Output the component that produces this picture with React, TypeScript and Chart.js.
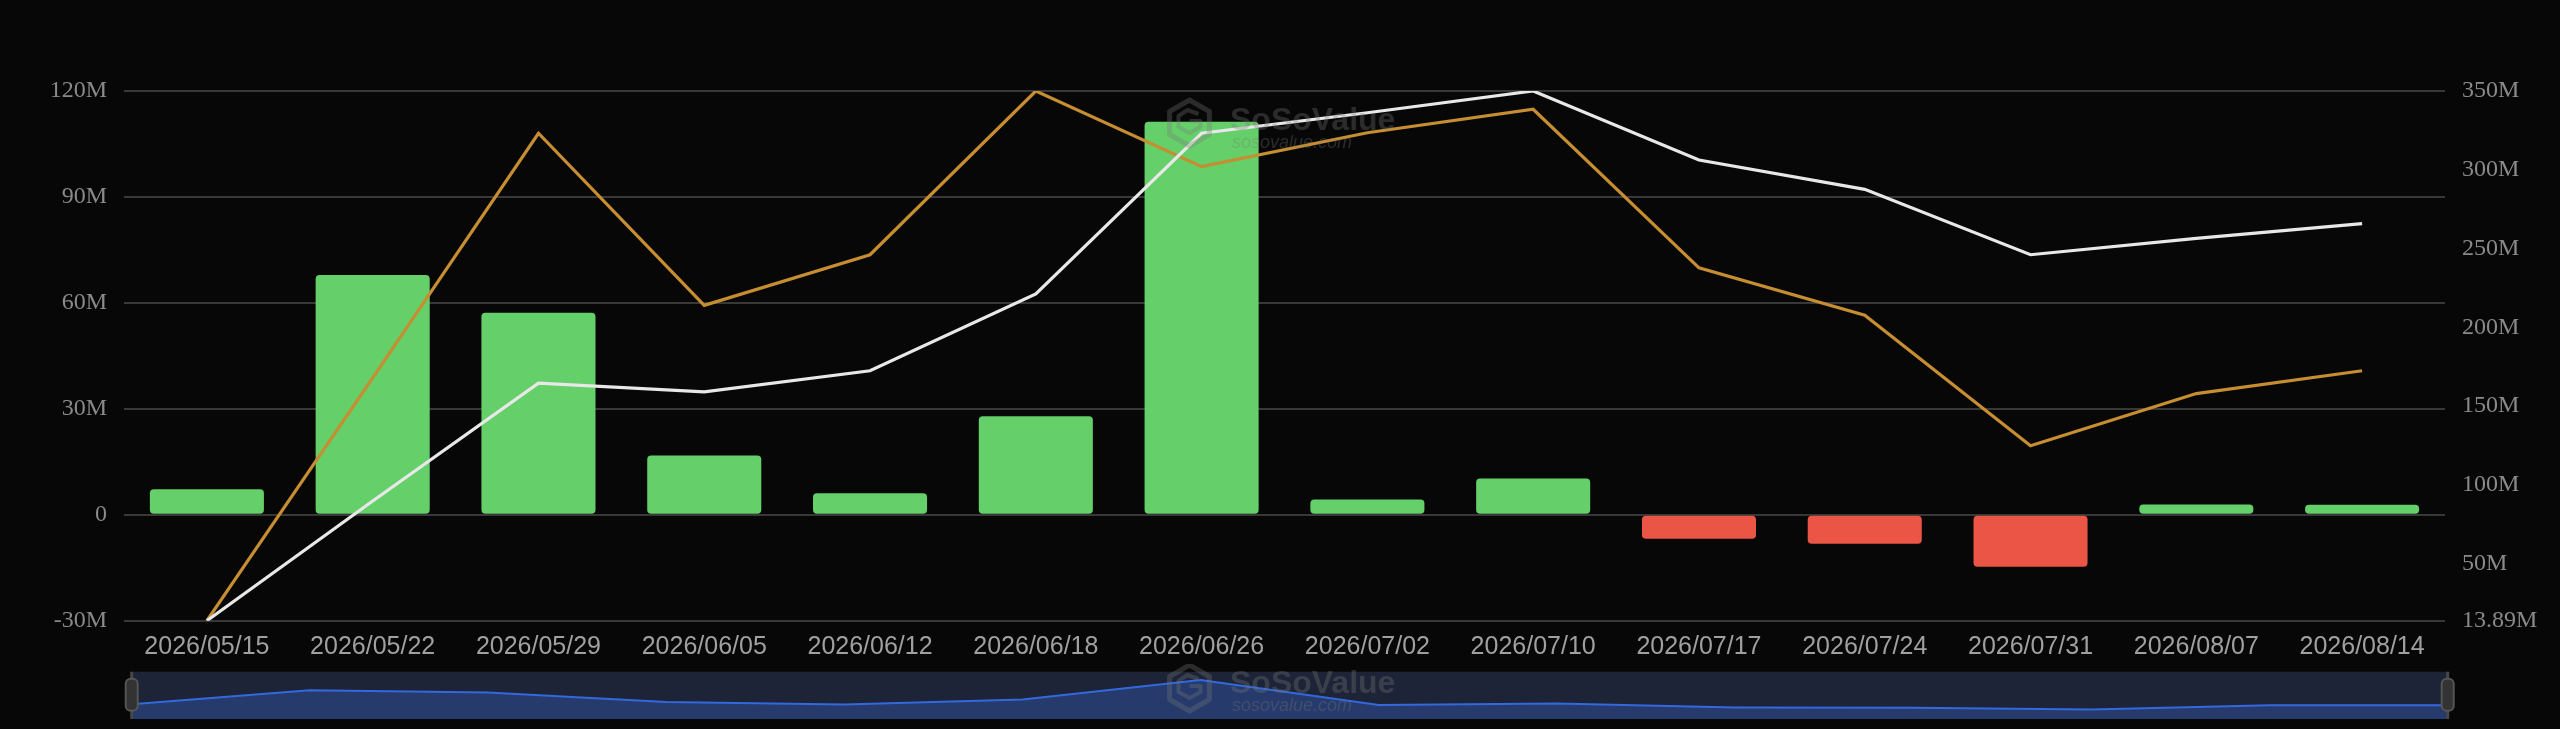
import React, { useEffect, useRef } from "react";
import { Chart, registerables } from "chart.js";

Chart.register(...registerables);

// ---------- data (values in millions) ----------
const categories = [
  "2026/05/15", "2026/05/22", "2026/05/29", "2026/06/05", "2026/06/12",
  "2026/06/18", "2026/06/26", "2026/07/02", "2026/07/10", "2026/07/17",
  "2026/07/24", "2026/07/31", "2026/08/07", "2026/08/14",
];
const netInflowM = [7.2, 67.9, 57.2, 16.8, 6.1, 27.9, 111.3, 4.3, 10.3, -6.8, -8.2, -14.7, 2.9, 2.8];
const orangeSeriesM = [13.89, 168, 323.2, 214.0, 246.1, 350, 302.0, 323.5, 338.4, 237.8, 207.7, 124.9, 158.0, 172.5];
const whiteSeriesM = [13.89, 89.8, 164.6, 159.1, 172.5, 221.3, 323.2, 336.2, 350, 306.2, 287.6, 246.1, 256.5, 265.8];
const leftTicks = { min: -30, max: 120, step: 30 };
const rightTickValues = [13.89, 50, 100, 150, 200, 250, 300, 350];

// ---------- styles ----------
const BG = "#070707";
const GREEN = "#65cf69";
const RED = "#ea5546";
const ORANGE = "#c68d31";
const WHITE = "#e8e8e8";
const GRID = "#383838";
const SERIF = "'Liberation Serif', 'Times New Roman', serif";
const SANS = "'Liberation Sans', Arial, Helvetica, sans-serif";

function drawWatermark(ctx: CanvasRenderingContext2D, ox: number, oy: number, textDy: number) {
  ctx.save();
  const c = "rgba(120,120,120,0.32)";
  ctx.strokeStyle = c;
  ctx.fillStyle = c;
  const cx = ox + 22.5;
  const cy = oy + 25;
  const r = 23;
  ctx.lineWidth = 5;
  ctx.lineJoin = "round";
  ctx.beginPath();
  for (let i = 0; i < 6; i++) {
    const a = -Math.PI / 2 + (i * Math.PI) / 3;
    const px = cx + r * Math.cos(a);
    const py = cy + r * Math.sin(a);
    if (i === 0) ctx.moveTo(px, py);
    else ctx.lineTo(px, py);
  }
  ctx.closePath();
  ctx.stroke();
  ctx.lineWidth = 4;
  ctx.beginPath();
  ctx.moveTo(cx + 9, cy - 9);
  ctx.lineTo(cx - 2, cy - 13);
  ctx.lineTo(cx - 11, cy - 7);
  ctx.lineTo(cx - 11, cy + 4);
  ctx.lineTo(cx, cy + 10);
  ctx.lineTo(cx + 11, cy + 4);
  ctx.lineTo(cx + 11, cy - 2);
  ctx.lineTo(cx, cy - 2);
  ctx.stroke();
  ctx.textBaseline = "alphabetic";
  ctx.textAlign = "left";
  ctx.font = `bold 32px ${SANS}`;
  ctx.fillText("SoSoValue", ox + 63, oy + textDy);
  ctx.font = `italic 18px ${SANS}`;
  ctx.fillText("sosovalue.com", ox + 65, oy + textDy + 18);
  ctx.restore();
}

function MainChart() {
  const ref = useRef<HTMLCanvasElement | null>(null);
  useEffect(() => {
    if (!ref.current) return;
    const watermark = {
      id: "watermark",
      afterDatasetsDraw(chart: any) {
        drawWatermark(chart.ctx, 1167, 98, 32);
      },
    };
    const chart = new Chart(ref.current, {
      type: "bar",
      data: {
        labels: categories,
        datasets: [
          {
            type: "line",
            label: "white",
            data: whiteSeriesM,
            yAxisID: "y1",
            borderColor: WHITE,
            borderWidth: 3.2,
            pointRadius: 0,
            tension: 0,
            order: 1,
          } as any,
          {
            type: "line",
            label: "orange",
            data: orangeSeriesM,
            yAxisID: "y1",
            borderColor: ORANGE,
            borderWidth: 3.2,
            pointRadius: 0,
            tension: 0,
            order: 2,
          } as any,
          {
            type: "bar",
            label: "net",
            data: netInflowM,
            yAxisID: "y",
            backgroundColor: netInflowM.map((v) => (v >= 0 ? GREEN : RED)),
            borderWidth: 0,
            borderRadius: 4,
            borderSkipped: false,
            barPercentage: 0.688,
            categoryPercentage: 1,
            order: 3,
          } as any,
        ],
      },
      options: {
        animation: false,
        responsive: false,
        maintainAspectRatio: false,
        layout: { padding: { top: 91, left: 0, right: 0, bottom: 0 } },
        plugins: { legend: { display: false }, tooltip: { enabled: false } },
        scales: {
          x: {
            offset: true,
            grid: { display: false, drawTicks: false },
            border: { display: false },
            ticks: {
              color: "#a0a0a0",
              font: { family: SANS, size: 25 },
              padding: 11,
              autoSkip: false,
              maxRotation: 0,
            },
            afterFit: (s: any) => {
              s.height = 108.3;
            },
          },
          y: {
            position: "left",
            min: leftTicks.min,
            max: leftTicks.max,
            grid: { color: GRID, lineWidth: 2, drawTicks: false },
            border: { display: false },
            ticks: {
              stepSize: leftTicks.step,
              color: "#8a8a8a",
              font: { family: SERIF, size: 24 },
              padding: 17,
              callback: (v: any) => (Number(v) === 0 ? "0" : `${v}M`),
            },
            afterFit: (s: any) => {
              s.width = 124;
            },
          },
          y1: {
            position: "right",
            min: rightTickValues[0],
            max: rightTickValues[rightTickValues.length - 1],
            grid: { display: false, drawTicks: false },
            border: { display: false },
            ticks: {
              color: "#8a8a8a",
              font: { family: SERIF, size: 24 },
              padding: 17,
              callback: (v: any) => `${v}M`,
            },
            afterBuildTicks: (s: any) => {
              s.ticks = rightTickValues.map((v) => ({ value: v }));
            },
            afterFit: (s: any) => {
              s.width = 115;
            },
          },
        },
      } as any,
      plugins: [watermark],
    });
    return () => chart.destroy();
  }, []);
  return (
    <canvas
      ref={ref}
      width={2560}
      height={729}
      style={{ position: "absolute", left: 0, top: 0, width: 2560, height: 729 }}
    />
  );
}

function SliderChart() {
  const ref = useRef<HTMLCanvasElement | null>(null);
  useEffect(() => {
    if (!ref.current) return;
    const deco = {
      id: "sliderDeco",
      beforeDraw(chart: any) {
        const { ctx, chartArea: a } = chart;
        ctx.save();
        ctx.fillStyle = "#1d2437";
        ctx.fillRect(a.left, a.top, a.right - a.left, a.bottom - a.top);
        ctx.restore();
      },
      afterDraw(chart: any) {
        const { ctx, chartArea: a } = chart;
        ctx.save();
        ctx.strokeStyle = "#474747";
        ctx.lineWidth = 3;
        ctx.beginPath();
        ctx.moveTo(a.left, a.top);
        ctx.lineTo(a.left, a.bottom);
        ctx.moveTo(a.right, a.top);
        ctx.lineTo(a.right, a.bottom);
        ctx.stroke();
        const handle = (x: number) => {
          const w = 12, h = 32, y = a.top + 7;
          ctx.beginPath();
          (ctx as any).roundRect(x - w / 2, y, w, h, 5);
          ctx.fillStyle = "#333333";
          ctx.fill();
          ctx.lineWidth = 2;
          ctx.strokeStyle = "#555555";
          ctx.stroke();
        };
        handle(a.left);
        handle(a.right);
        ctx.restore();
        drawWatermark(ctx, 1167 - 120, 663 - 664, 30);
      },
    };
    const chart = new Chart(ref.current, {
      type: "line",
      data: {
        labels: categories,
        datasets: [
          {
            data: netInflowM,
            borderColor: "#3468dd",
            borderWidth: 2,
            backgroundColor: "#263a6b",
            fill: "start",
            pointRadius: 0,
            tension: 0,
          },
        ],
      },
      options: {
        animation: false,
        responsive: false,
        maintainAspectRatio: false,
        layout: { padding: { left: 11.7, right: 12.3, top: 7.7, bottom: 7 } },
        plugins: { legend: { display: false }, tooltip: { enabled: false } },
        scales: {
          x: { display: false, offset: false },
          y: { display: false, min: -56, max: 147 },
        },
      } as any,
      plugins: [deco],
    });
    return () => chart.destroy();
  }, []);
  return (
    <canvas
      ref={ref}
      width={2340}
      height={62}
      style={{ position: "absolute", left: 120, top: 664, width: 2340, height: 62 }}
    />
  );
}

export default function App() {
  return (
    <div
      style={{
        position: "fixed",
        left: 0,
        top: 0,
        width: 2560,
        height: 729,
        background: BG,
        overflow: "hidden",
      }}
    >
      <MainChart />
      <SliderChart />
    </div>
  );
}
